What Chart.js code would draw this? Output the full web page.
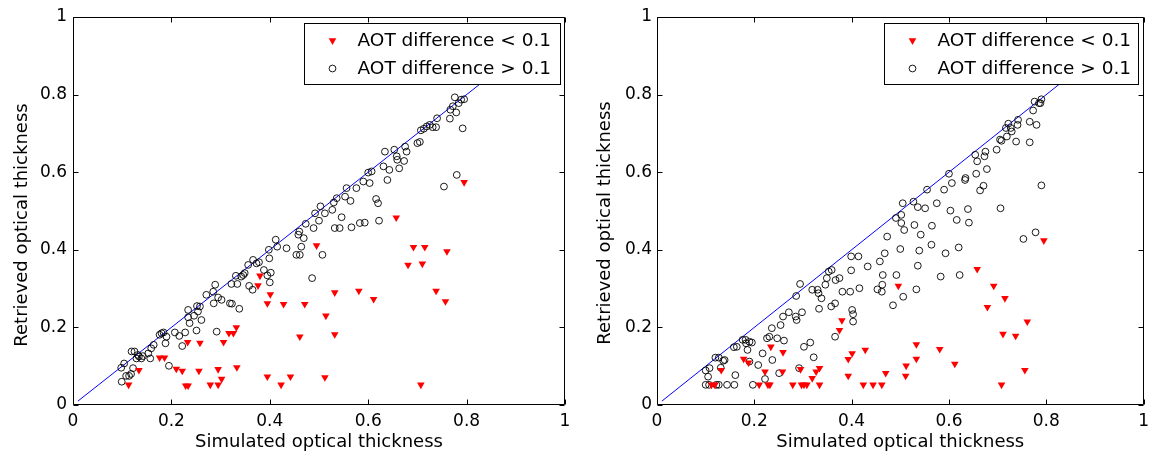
<!DOCTYPE html>
<html><head><meta charset="utf-8">
<script src="https://cdn.jsdelivr.net/npm/chart.js@4.4.0/dist/chart.umd.min.js"></script>
<style>
html,body{margin:0;padding:0;background:#fff;}
body{width:1155px;height:457px;position:relative;overflow:hidden;}
.panel{position:absolute;top:0;}
canvas{display:block;}
</style></head><body>
<div class="panel" style="left:0"><canvas id="c1" width="580" height="457"></canvas></div>
<div class="panel" style="left:580px"><canvas id="c2" width="575" height="457"></canvas></div>
<script>
const xTitle = 'Simulated optical thickness';
const yTitle = 'Retrieved optical thickness';
const legendLabels = ['AOT difference < 0.1', 'AOT difference > 0.1'];
const tickValues = [0, 0.2, 0.4, 0.6, 0.8, 1];
const tickLabels = ['0', '0.2', '0.4', '0.6', '0.8', '1'];
const oneToOne = [[0.01, 0.01], [0.98, 0.98]];

// Left panel
const leftSmall = [[0.113,0.052],[0.134,0.090],[0.176,0.122],[0.186,0.122],[0.210,0.093],[0.222,0.088],[0.229,0.050],[0.234,0.050],[0.233,0.162],[0.256,0.088],[0.258,0.160],[0.279,0.052],[0.295,0.052],[0.295,0.092],[0.302,0.067],[0.306,0.162],[0.317,0.185],[0.326,0.185],[0.332,0.200],[0.333,0.097],[0.376,0.308],[0.380,0.333],[0.401,0.285],[0.395,0.262],[0.395,0.073],[0.423,0.052],[0.428,0.260],[0.442,0.073],[0.461,0.176],[0.471,0.260],[0.495,0.411],[0.512,0.071],[0.514,0.230],[0.532,0.290],[0.532,0.182],[0.581,0.294],[0.611,0.273],[0.657,0.483],[0.681,0.361],[0.692,0.407],[0.710,0.364],[0.715,0.407],[0.707,0.052],[0.738,0.294],[0.757,0.267],[0.760,0.396],[0.795,0.574]];
const leftLarge = [[0.099,0.060],[0.098,0.096],[0.104,0.107],[0.108,0.075],[0.114,0.075],[0.118,0.080],[0.119,0.138],[0.122,0.095],[0.125,0.138],[0.129,0.120],[0.132,0.129],[0.134,0.125],[0.139,0.120],[0.142,0.126],[0.153,0.133],[0.157,0.120],[0.159,0.146],[0.164,0.155],[0.176,0.181],[0.180,0.185],[0.184,0.187],[0.188,0.159],[0.190,0.176],[0.195,0.101],[0.207,0.187],[0.216,0.178],[0.222,0.152],[0.228,0.187],[0.234,0.226],[0.234,0.245],[0.237,0.211],[0.246,0.230],[0.251,0.192],[0.252,0.255],[0.254,0.241],[0.258,0.254],[0.261,0.219],[0.271,0.284],[0.285,0.292],[0.286,0.262],[0.289,0.310],[0.292,0.189],[0.295,0.277],[0.302,0.271],[0.319,0.262],[0.322,0.312],[0.323,0.261],[0.331,0.333],[0.334,0.312],[0.338,0.248],[0.342,0.331],[0.346,0.335],[0.349,0.340],[0.356,0.361],[0.358,0.307],[0.365,0.297],[0.366,0.374],[0.373,0.365],[0.378,0.368],[0.388,0.348],[0.395,0.334],[0.399,0.378],[0.398,0.400],[0.402,0.341],[0.400,0.316],[0.412,0.426],[0.415,0.408],[0.434,0.404],[0.454,0.387],[0.458,0.439],[0.460,0.447],[0.461,0.387],[0.464,0.408],[0.469,0.430],[0.473,0.467],[0.486,0.327],[0.489,0.456],[0.492,0.494],[0.500,0.475],[0.503,0.512],[0.507,0.387],[0.512,0.494],[0.527,0.503],[0.530,0.522],[0.532,0.456],[0.536,0.533],[0.542,0.456],[0.546,0.484],[0.553,0.537],[0.556,0.559],[0.564,0.526],[0.566,0.458],[0.576,0.559],[0.583,0.469],[0.590,0.576],[0.593,0.470],[0.600,0.599],[0.603,0.572],[0.607,0.602],[0.616,0.531],[0.620,0.520],[0.622,0.475],[0.631,0.615],[0.634,0.653],[0.639,0.580],[0.643,0.606],[0.653,0.658],[0.658,0.641],[0.659,0.632],[0.663,0.610],[0.673,0.629],[0.675,0.666],[0.678,0.653],[0.700,0.675],[0.705,0.678],[0.707,0.708],[0.713,0.712],[0.719,0.718],[0.725,0.722],[0.731,0.716],[0.738,0.716],[0.740,0.739],[0.754,0.563],[0.766,0.738],[0.767,0.761],[0.772,0.770],[0.776,0.793],[0.779,0.754],[0.780,0.593],[0.784,0.778],[0.789,0.787],[0.792,0.713],[0.795,0.788]];

// Right panel
const rightSmall = [[0.112,0.052],[0.119,0.052],[0.132,0.090],[0.178,0.119],[0.188,0.109],[0.210,0.052],[0.222,0.086],[0.228,0.052],[0.232,0.052],[0.234,0.150],[0.259,0.136],[0.258,0.086],[0.279,0.052],[0.295,0.092],[0.297,0.052],[0.302,0.052],[0.308,0.052],[0.319,0.069],[0.327,0.086],[0.334,0.095],[0.334,0.052],[0.375,0.193],[0.380,0.218],[0.393,0.118],[0.401,0.133],[0.393,0.075],[0.428,0.142],[0.424,0.052],[0.444,0.052],[0.462,0.052],[0.470,0.082],[0.496,0.307],[0.512,0.101],[0.511,0.075],[0.533,0.156],[0.533,0.119],[0.581,0.144],[0.612,0.106],[0.658,0.350],[0.679,0.252],[0.692,0.307],[0.708,0.052],[0.711,0.183],[0.715,0.275],[0.737,0.178],[0.756,0.090],[0.761,0.215],[0.795,0.424]];
const rightLarge = [[0.100,0.052],[0.107,0.052],[0.122,0.052],[0.127,0.052],[0.144,0.052],[0.159,0.052],[0.197,0.052],[0.100,0.089],[0.108,0.095],[0.105,0.073],[0.120,0.122],[0.127,0.122],[0.131,0.096],[0.136,0.114],[0.139,0.116],[0.161,0.077],[0.158,0.149],[0.164,0.150],[0.176,0.168],[0.182,0.168],[0.190,0.163],[0.186,0.142],[0.183,0.159],[0.190,0.112],[0.195,0.161],[0.208,0.103],[0.217,0.133],[0.222,0.067],[0.226,0.172],[0.231,0.176],[0.236,0.198],[0.237,0.116],[0.247,0.172],[0.251,0.082],[0.254,0.206],[0.259,0.228],[0.261,0.166],[0.271,0.239],[0.285,0.228],[0.287,0.219],[0.292,0.095],[0.294,0.312],[0.286,0.281],[0.298,0.239],[0.302,0.150],[0.315,0.161],[0.319,0.297],[0.322,0.123],[0.330,0.297],[0.332,0.288],[0.333,0.248],[0.338,0.275],[0.346,0.310],[0.349,0.327],[0.353,0.344],[0.358,0.254],[0.359,0.348],[0.366,0.262],[0.367,0.322],[0.375,0.327],[0.366,0.176],[0.381,0.292],[0.397,0.292],[0.399,0.383],[0.399,0.347],[0.401,0.245],[0.403,0.234],[0.403,0.215],[0.414,0.383],[0.416,0.301],[0.433,0.357],[0.453,0.298],[0.458,0.370],[0.462,0.292],[0.463,0.310],[0.464,0.335],[0.468,0.391],[0.473,0.434],[0.485,0.257],[0.492,0.335],[0.491,0.482],[0.500,0.402],[0.502,0.469],[0.502,0.490],[0.505,0.520],[0.506,0.279],[0.508,0.451],[0.527,0.524],[0.529,0.464],[0.533,0.298],[0.536,0.510],[0.536,0.359],[0.539,0.398],[0.542,0.439],[0.551,0.507],[0.555,0.555],[0.564,0.413],[0.565,0.462],[0.575,0.520],[0.583,0.331],[0.590,0.555],[0.593,0.391],[0.600,0.596],[0.603,0.501],[0.606,0.572],[0.616,0.477],[0.620,0.406],[0.622,0.335],[0.633,0.580],[0.634,0.585],[0.639,0.505],[0.641,0.470],[0.654,0.645],[0.656,0.596],[0.658,0.628],[0.664,0.553],[0.671,0.565],[0.673,0.641],[0.675,0.653],[0.678,0.608],[0.698,0.658],[0.705,0.684],[0.706,0.507],[0.708,0.681],[0.719,0.692],[0.722,0.725],[0.717,0.714],[0.727,0.714],[0.729,0.705],[0.738,0.679],[0.741,0.722],[0.742,0.735],[0.753,0.428],[0.766,0.730],[0.766,0.677],[0.773,0.759],[0.776,0.782],[0.778,0.445],[0.780,0.722],[0.785,0.778],[0.788,0.778],[0.790,0.788],[0.790,0.566]];

const FONT = '"DejaVu Sans", "Liberation Sans", sans-serif';
const toPts = arr => arr.map(p => ({x: p[0], y: p[1]}));

const framePlugin = {
  id: 'frame',
  afterDatasetsDraw(chart) {
    const {ctx, chartArea: ca, scales} = chart;
    const L = Math.round(ca.left) + 0.5, R = Math.round(ca.right) - 0.5;
    const T = Math.round(ca.top) + 0.5, B = Math.round(ca.bottom) - 0.5;
    ctx.save();
    ctx.strokeStyle = '#000';
    ctx.lineWidth = 1;
    ctx.beginPath();
    ctx.rect(L, T, R - L, B - T);
    const tl = 5;
    scales.x.ticks.forEach(t => {
      const px = Math.round(scales.x.getPixelForValue(t.value)) + 0.5;
      ctx.moveTo(px, B); ctx.lineTo(px, B - tl);
      ctx.moveTo(px, T); ctx.lineTo(px, T + tl);
    });
    scales.y.ticks.forEach(t => {
      const py = Math.round(scales.y.getPixelForValue(t.value)) + 0.5;
      ctx.moveTo(L, py); ctx.lineTo(L + tl, py);
      ctx.moveTo(R, py); ctx.lineTo(R - tl, py);
    });
    ctx.stroke();
    ctx.restore();
  }
};

const yTitlePlugin = {
  id: 'yTitle',
  afterDraw(chart, args, opts) {
    const {ctx, chartArea: ca} = chart;
    ctx.save();
    ctx.translate(opts.x, (ca.top + ca.bottom) / 2 + opts.shift);
    ctx.rotate(-Math.PI / 2);
    ctx.fillStyle = '#000';
    ctx.font = '18px ' + FONT;
    ctx.textAlign = 'center';
    ctx.textBaseline = 'middle';
    ctx.fillText(opts.text, 0, 0);
    ctx.restore();
  }
};

const boxLegendPlugin = {
  id: 'boxLegend',
  afterDraw(chart, args, opts) {
    const {ctx, chartArea: ca} = chart;
    const w = opts.width, h = 61;
    const bx = Math.round(ca.right - opts.right - w) + 0.5;
    const by = Math.round(ca.top + 6) + 0.5;
    ctx.save();
    ctx.fillStyle = '#fff';
    ctx.fillRect(bx, by, w, h);
    ctx.strokeStyle = '#000';
    ctx.lineWidth = 1;
    ctx.strokeRect(bx, by, w, h);
    [0, 1].forEach(i => {
      const ds = chart.data.datasets[i];
      const cy = by + 17 + i * 28;
      ctx.fillStyle = ds.backgroundColor;
      ctx.strokeStyle = ds.borderColor;
      ctx.lineWidth = ds.borderWidth;
      Chart.helpers.drawPoint(ctx, {
        pointStyle: ds.pointStyle, rotation: ds.rotation || 0,
        radius: ds.pointRadius, borderWidth: ds.borderWidth
      }, bx + 28, cy);
      ctx.fillStyle = '#000';
      ctx.font = '18.5px ' + FONT;
      ctx.textBaseline = 'middle';
      ctx.textAlign = 'left';
      ctx.fillText(ds.label, bx + 53, cy + 1);
    });
    ctx.restore();
  }
};

function makeChart(id, small, large, cfg) {
  return new Chart(document.getElementById(id), {
    type: 'scatter',
    data: {
      datasets: [
        {label: legendLabels[0], data: toPts(small), pointStyle: 'triangle', rotation: 180,
         pointRadius: 4.4, backgroundColor: '#ff0000', borderColor: '#ff0000', borderWidth: 0, order: 1},
        {label: legendLabels[1], data: toPts(large), pointStyle: 'circle',
         pointRadius: 3.4, backgroundColor: 'rgba(0,0,0,0)', borderColor: '#000000', borderWidth: 0.9, order: 2},
        {label: '1:1', type: 'line', data: toPts(oneToOne), showLine: true, pointRadius: 0,
         borderColor: '#0000ff', borderWidth: 1, fill: false, order: 3}
      ]
    },
    options: {
      responsive: false,
      animation: false,
      events: [],
      layout: {padding: {left: 0, top: 17, right: cfg.padRight, bottom: 0}},
      plugins: {
        legend: {display: false},
        tooltip: {enabled: false},
        boxLegend: {width: cfg.legendW, right: cfg.legendRight},
        yTitle: {text: yTitle, x: cfg.yTitleX, shift: cfg.yTitleShift}
      },
      scales: {
        x: {
          type: 'linear', min: 0, max: 1,
          afterBuildTicks: s => { s.ticks = tickValues.map(v => ({value: v})); },
          afterFit: s => { s.height = 52; },
          grid: {display: false, drawTicks: false},
          border: {display: false},
          ticks: {padding: 6, color: '#000', font: {family: FONT, size: 17},
                  maxRotation: 0, autoSkip: false,
                  callback: (v) => tickLabels[tickValues.indexOf(v)] ?? String(v)},
          title: {display: true, text: xTitle, color: '#000', font: {family: FONT, size: 18},
                  padding: {top: 0, bottom: 4}}
        },
        y: {
          type: 'linear', min: 0, max: 1,
          afterBuildTicks: s => { s.ticks = tickValues.map(v => ({value: v})); },
          afterFit: s => { s.width = cfg.yWidth; },
          grid: {display: false, drawTicks: false},
          border: {display: false},
          ticks: {padding: cfg.yTickPad, color: '#000', font: {family: FONT, size: 17},
                  autoSkip: false,
                  callback: (v) => tickLabels[tickValues.indexOf(v)] ?? String(v)},
          title: {display: false}
        }
      }
    },
    plugins: [framePlugin, boxLegendPlugin, yTitlePlugin]
  });
}

makeChart('c1', leftSmall, leftLarge, {padRight: 15, yWidth: 73, yTickPad: 6, yTitleX: 22, yTitleShift: 14, legendW: 256, legendRight: 5});
makeChart('c2', rightSmall, rightLarge, {padRight: 7, yWidth: 77, yTickPad: 5, yTitleX: 25, yTitleShift: 12, legendW: 254, legendRight: 6});
</script>
</body></html>
